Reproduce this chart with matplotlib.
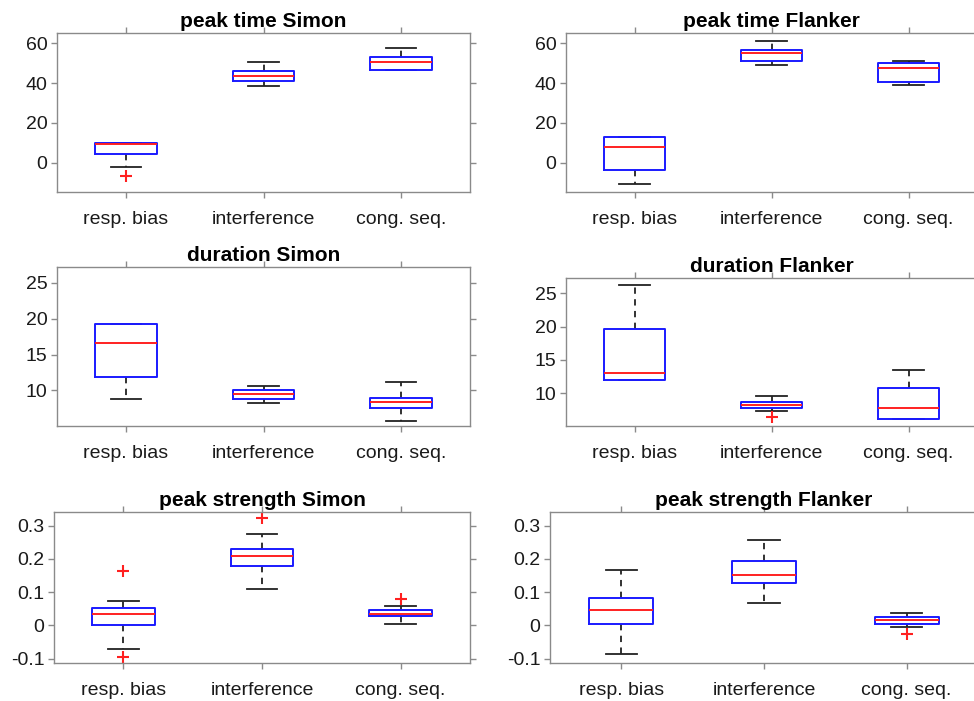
import matplotlib
matplotlib.use('Agg')
import matplotlib.pyplot as plt
from matplotlib.ticker import FormatStrFormatter

plt.rcParams['font.family'] = ['Liberation Sans', 'DejaVu Sans']
plt.rcParams['axes.unicode_minus'] = False

# conditions on the x axis
categories = ['resp. bias', 'interference', 'cong. seq.']

# box statistics per condition: [lower whisker, q1, median, q3, upper whisker]
peak_time_simon = [[-2.3, 4.2, 9.6, 9.8, 9.8],
                   [38.4, 41.1, 43.7, 46.1, 50.8],
                   [46.4, 46.4, 50.6, 53.1, 57.8]]
peak_time_simon_out = [[-6.5], [], []]

peak_time_flanker = [[-10.7, -3.4, 7.9, 12.7, 13.1],
                     [49.3, 51.1, 55.0, 56.5, 61.0],
                     [38.9, 40.6, 47.6, 50.1, 51.3]]
peak_time_flanker_out = [[], [], []]

duration_simon = [[8.8, 11.9, 16.6, 19.3, 19.3],
                  [8.2, 8.75, 9.5, 10.0, 10.6],
                  [5.8, 7.55, 8.4, 9.0, 11.15]]
duration_simon_out = [[], [], []]

duration_flanker = [[11.95, 11.95, 12.95, 19.6, 26.3],
                    [7.25, 7.75, 8.15, 8.6, 9.5],
                    [6.15, 6.15, 7.75, 10.75, 13.45]]
duration_flanker_out = [[], [6.35], []]

strength_simon = [[-0.072, 0.002, 0.035, 0.052, 0.074],
                  [0.110, 0.180, 0.209, 0.229, 0.274],
                  [0.004, 0.028, 0.035, 0.045, 0.057]]
strength_simon_out = [[0.163, -0.095], [0.322], [0.080]]

strength_flanker = [[-0.087, 0.005, 0.046, 0.081, 0.166],
                    [0.068, 0.128, 0.151, 0.193, 0.257],
                    [-0.006, 0.005, 0.015, 0.026, 0.038]]
strength_flanker_out = [[], [], [-0.027]]

panels = [
    ('peak time Simon', peak_time_simon, peak_time_simon_out, (-14.7, 65.2), [0, 20, 40, 60], (57, 470, 33, 192)),
    ('peak time Flanker', peak_time_flanker, peak_time_flanker_out, (-14.7, 65.2), [0, 20, 40, 60], (566, 977, 33, 192)),
    ('duration Simon', duration_simon, duration_simon_out, (5.05, 27.2), [10, 15, 20, 25], (57, 470, 267, 426)),
    ('duration Flanker', duration_flanker, duration_flanker_out, (5.05, 27.3), [10, 15, 20, 25], (566, 977, 278, 426)),
    ('peak strength Simon', strength_simon, strength_simon_out, (-0.113, 0.341), [-0.1, 0, 0.1, 0.2, 0.3], (54, 470, 512, 663)),
    ('peak strength Flanker', strength_flanker, strength_flanker_out, (-0.113, 0.341), [-0.1, 0, 0.1, 0.2, 0.3], (550, 978, 512, 663)),
]

W, H = 974, 701
fig = plt.figure(figsize=(W / 100, H / 100), dpi=100)

for title, stats, outs, ylim, yticks, (l, r, t, b) in panels:
    ax = fig.add_axes([l / W, 1 - b / H, (r - l) / W, (b - t) / H])
    bstats = []
    for s, o in zip(stats, outs):
        bstats.append({'whislo': s[0], 'q1': s[1], 'med': s[2], 'q3': s[3],
                       'whishi': s[4], 'fliers': o})
    ax.bxp(bstats, positions=[1, 2, 3], widths=0.45, capwidths=0.22,
           boxprops=dict(color='#1a1aff', linewidth=1.4, zorder=3),
           medianprops=dict(color='#ff2020', linewidth=1.4, zorder=4),
           whiskerprops=dict(color='#222222', linewidth=1.3, linestyle=(0, (3.5, 3)), zorder=2),
           capprops=dict(color='#222222', linewidth=1.3, zorder=2),
           flierprops=dict(marker='+', markeredgecolor='#ff2020', markersize=8,
                           markeredgewidth=1.5, linestyle='none'))
    ax.set_xlim(0.5, 3.5)
    ax.set_ylim(*ylim)
    ax.set_yticks(yticks)
    ax.yaxis.set_major_formatter(FormatStrFormatter('%g'))
    ax.set_xticks([1, 2, 3])
    ax.set_xticklabels(categories)
    for sp in ax.spines.values():
        sp.set_color('#8a8a8a')
        sp.set_linewidth(1.0)
    ax.tick_params(axis='both', direction='out', length=4, width=1.0, color='#8a8a8a',
                   labelsize=14, labelcolor='#1a1a1a')
    ax.tick_params(axis='x', pad=10, top=True)
    ax.tick_params(axis='y', pad=3, right=True)
    ax.set_title(title, fontsize=15, fontweight='bold', pad=4)

fig.savefig('out.png', dpi=100)
